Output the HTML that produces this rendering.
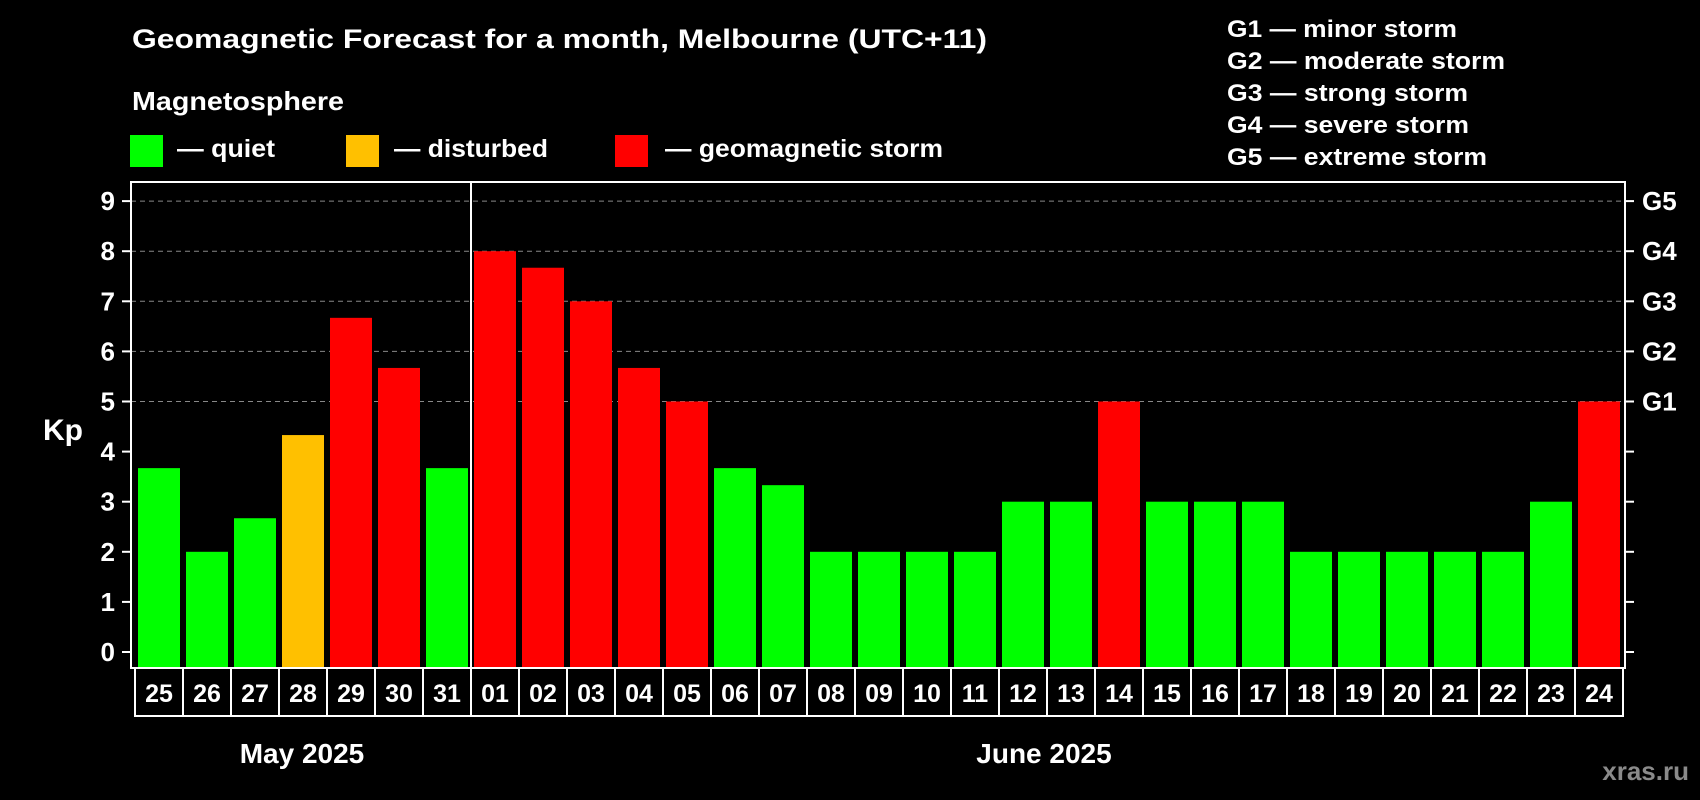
<!DOCTYPE html>
<html><head><meta charset="utf-8"><style>
html,body{margin:0;padding:0;background:#000;}
svg{display:block;font-family:"Liberation Sans",Arial,sans-serif;font-weight:bold;}
</style></head><body>
<svg id="chart" width="1700" height="800" viewBox="0 0 1700 800" xmlns="http://www.w3.org/2000/svg">
<rect x="0" y="0" width="1700" height="800" fill="#000"/>
<text x="132" y="48" font-size="27" fill="#fff" textLength="855" lengthAdjust="spacingAndGlyphs">Geomagnetic Forecast for a month, Melbourne (UTC+11)</text>
<text x="132" y="110" font-size="26" fill="#fff" textLength="212" lengthAdjust="spacingAndGlyphs">Magnetosphere</text>
<g>
<rect x="130" y="135" width="33" height="32" fill="#00ff00"/>
<text x="177" y="157" font-size="25" fill="#fff" textLength="98" lengthAdjust="spacingAndGlyphs">— quiet</text></g>
<g>
<rect x="346" y="135" width="33" height="32" fill="#ffc000"/>
<text x="394" y="157" font-size="25" fill="#fff" textLength="154" lengthAdjust="spacingAndGlyphs">— disturbed</text></g>
<g>
<rect x="615" y="135" width="33" height="32" fill="#ff0000"/>
<text x="665" y="157" font-size="25" fill="#fff" textLength="278" lengthAdjust="spacingAndGlyphs">— geomagnetic storm</text></g>
<g font-size="24" fill="#fff">
<text x="1227" y="37" textLength="230" lengthAdjust="spacingAndGlyphs">G1 — minor storm</text>
<text x="1227" y="69" textLength="278" lengthAdjust="spacingAndGlyphs">G2 — moderate storm</text>
<text x="1227" y="101" textLength="241" lengthAdjust="spacingAndGlyphs">G3 — strong storm</text>
<text x="1227" y="133" textLength="242" lengthAdjust="spacingAndGlyphs">G4 — severe storm</text>
<text x="1227" y="165" textLength="260" lengthAdjust="spacingAndGlyphs">G5 — extreme storm</text>
</g>
<text x="43" y="440" font-size="30" fill="#fff">Kp</text>
<g id="grid"></g>
<g id="bars"></g>
<g id="axes"></g>
<g id="dates"></g>
<text x="302" y="763" font-size="28" fill="#fff" text-anchor="middle">May 2025</text>
<text x="1044" y="763" font-size="28" fill="#fff" text-anchor="middle">June 2025</text>
<text x="1689" y="780" font-size="26" fill="#8a8a8a" text-anchor="end">xras.ru</text>
</svg>
<script>
const days = ["25","26","27","28","29","30","31","01","02","03","04","05","06","07","08","09","10","11","12","13","14","15","16","17","18","19","20","21","22","23","24"];
const kpValues = [3.67,2,2.67,4.33,6.67,5.67,3.67,8,7.67,7,5.67,5,3.67,3.33,2,2,2,2,3,3,5,3,3,3,2,2,2,2,2,3,5];
const yTicks = [0,1,2,3,4,5,6,7,8,9];
const gLabels = ["G1","G2","G3","G4","G5"];
const gLevels = [5,6,7,8,9];
const monthBreak = 7;

const NS="http://www.w3.org/2000/svg";
const plotL=131, plotR=1625, plotT=182, plotB=668;
const cellX0=135, cellW=48, dateB=716;
function y(v){return 652-v*50.1;}
function x(i){return cellX0+i*cellW;}
function colorFor(v){return v>=5?"#ff0000":(v>=4?"#ffc000":"#00ff00");}
function mk(tag,attrs,parent){const e=document.createElementNS(NS,tag);for(const k in attrs)e.setAttribute(k,attrs[k]);parent.appendChild(e);return e;}

const grid=document.getElementById('grid');
gLevels.forEach(function(v){
  const l=mk('line',{x1:plotL,x2:plotR,y1:y(v),y2:y(v),stroke:'#888','stroke-width':1,'stroke-dasharray':'5,4'},grid);
  
  
});

const bars=document.getElementById('bars');
kpValues.forEach(function(v,i){
  const r=mk('rect',{x:x(i)+3,y:y(v),width:cellW-6,height:plotB-y(v),fill:colorFor(v)},bars);
  
  
});

const axes=document.getElementById('axes');
const frame=mk('rect',{x:plotL,y:plotT,width:plotR-plotL,height:plotB-plotT,fill:'none',stroke:'#fff','stroke-width':2},axes);


yTicks.forEach(function(v){
  mk('line',{x1:plotL-9,x2:plotL,y1:y(v),y2:y(v),stroke:'#fff','stroke-width':2},axes);
  mk('line',{x1:plotR,x2:plotR+9,y1:y(v),y2:y(v),stroke:'#fff','stroke-width':2},axes);
  const t=mk('text',{x:115,y:y(v)+9,'font-size':26,fill:'#fff','text-anchor':'end'},axes);
  t.textContent=v;
  
  
});
gLevels.forEach(function(v,i){
  const t=mk('text',{x:1642,y:y(v)+9,'font-size':26,fill:'#fff'},axes);
  t.textContent=gLabels[i];
  
  
});

const dates=document.getElementById('dates');
days.forEach(function(d,i){
  const c=mk('rect',{x:x(i),y:plotB,width:cellW,height:dateB-plotB,fill:'none',stroke:'#fff','stroke-width':2},dates);
  
  
  const t=mk('text',{x:x(i)+cellW/2,y:plotB+34,'font-size':25,fill:'#fff','text-anchor':'middle'},dates);
  t.textContent=d;
  
  
});
const sep=mk('line',{x1:x(monthBreak),x2:x(monthBreak),y1:plotT,y2:dateB,stroke:'#fff','stroke-width':2},dates);


</script>
</body></html>
